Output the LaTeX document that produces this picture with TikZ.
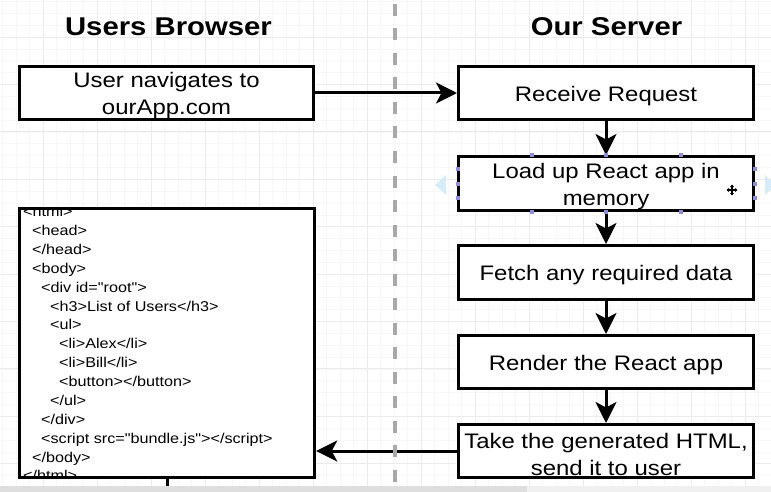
\documentclass[tikz,border=0pt]{standalone}
\usepackage{fontspec}
\setmainfont{Liberation Sans}
\newfontfamily\stretchfont[FakeStretch=1.14]{Liberation Sans}
\usetikzlibrary{arrows.meta}
\definecolor{dashgray}{HTML}{A8A8A8}
\definecolor{handle}{HTML}{8C8CE0}
\definecolor{hoverblue}{HTML}{D6ECF8}
\begin{document}
\begin{tikzpicture}[x=1pt,y=-1pt,
  box/.style={draw=black, line width=3pt, fill=white, inner sep=0pt, outer sep=1.5pt},
  srv/.style={box, minimum width=295pt},
  lbl/.style={inner sep=0pt, align=center, yshift=-3pt,
    font=\stretchfont\fontsize{21}{27}\selectfont},
  title/.style={anchor=base, inner sep=0pt, font=\stretchfont\bfseries\fontsize{25.7}{30}\selectfont},
  code/.style={anchor=base west, inner sep=0pt, font=\stretchfont\fontsize{14.2}{20}\selectfont},
  flow/.style={line width=3pt, -{Stealth[length=21pt,width=21pt,inset=5.5pt]}},
  hnd/.style={fill=handle, draw=none, minimum size=4pt, inner sep=0pt, shape=rectangle},
]
\useasboundingbox (0,0) rectangle (771,492);
\fill[white] (0,0) rectangle (771,492);
% faint grid
\foreach \gx in {2.5,16,29.5,...,771} \draw[black!3, line width=0.6pt] (\gx,0) -- (\gx,492);
\foreach \gy in {1.5,13.35,...,492} \draw[black!3, line width=0.6pt] (0,\gy) -- (771,\gy);
\foreach \gx in {43,97,...,771} \draw[black!8, line width=0.8pt] (\gx,0) -- (\gx,492);
\foreach \gy in {37,84.4,...,492} \draw[black!8, line width=0.8pt] (0,\gy) -- (771,\gy);

% titles
\node[title] (tb) at (168.5,36) {Users Browser};
\node[title] (ts) at (606.5,36) {Our Server};

% boxes
\node[box, minimum width=294pt, minimum height=53pt,
  label={[lbl]center:User navigates to\\ourApp.com}] (nav) at (166.5,93) {};
\node[srv, minimum height=53pt, label={[lbl]center:Receive Request}] (recv) at (606,93) {};
% hover triangles of selected box
\fill[hoverblue] (435,185) -- (446,175) -- (446,195) -- cycle;
\fill[hoverblue] (776,185) -- (765,175) -- (765,195) -- cycle;
\node[srv, minimum height=54pt, label={[lbl]center:Load up React app in\\memory}] (load) at (606,183.5) {};
\node[srv, minimum height=54pt, label={[lbl]center:Fetch any required data}] (fetch) at (606,272.5) {};
\node[srv, minimum height=53pt, label={[lbl]center:Render the React app}] (render) at (606,362) {};
\node[srv, minimum height=53pt, label={[lbl]center:Take the generated HTML,\\send it to user}] (send) at (606,451) {};

% html box
\node[draw=none, fill=white, minimum width=295pt, minimum height=269pt, inner sep=0pt] (html) at (167,343) {};
\begin{scope}
\clip (19.5,208.5) rectangle (314.5,477.5);
\node[code] (l1) at (23,216.7) {<html>};
\node[code] (l2) at (32,235.6) {<head>};
\node[code] (l3) at (32,254.4) {</head>};
\node[code] (l4) at (32,273.3) {<body>};
\node[code] (l5) at (41,292.2) {<div id="root">};
\node[code] (l6) at (50,311.1) {<h3>List of Users</h3>};
\node[code] (l7) at (50,329.9) {<ul>};
\node[code] (l8) at (59,348.8) {<li>Alex</li>};
\node[code] (l9) at (59,367.7) {<li>Bill</li>};
\node[code] (l10) at (59,386.5) {<button></button>};
\node[code] (l11) at (50,405.4) {</ul>};
\node[code] (l12) at (41,424.3) {</div>};
\node[code] (l13) at (41,443.1) {<script src="bundle.js"></script>};
\node[code] (l14) at (32,462.0) {</body>};
\node[code] (l15) at (23,480.9) {</html>};
\end{scope}
\draw[line width=3pt] (html.south west) rectangle (html.north east);

% connectors
\draw[flow] (nav.east) -- (recv.west);
\draw[flow] (recv.south) -- (load.north);
\draw[flow] (load.south) -- (fetch.north);
\draw[flow] (fetch.south) -- (render.north);
\draw[flow] (render.south) -- (send.north);
\draw[flow] (send.west) -- ([xshift=1.5pt]html.east |- send.west);
\coordinate (stub) at (167,487);
\draw[line width=3pt] ([yshift=-1.5pt]html.south) -- (stub);

% selection handles on "Load up" box
\foreach \hx in {531.5,606,680.5} {
  \node[hnd] at (\hx,155.5) {};
  \node[hnd] at (\hx,211.5) {};
}
\foreach \hy in {168.5,183.5,197.5} {
  \node[hnd] at (457.5,\hy) {};
  \node[hnd] at (754.5,\hy) {};
}
% move cursor
\begin{scope}[shift={(732,190)}]
  \draw[white, line width=2.6pt] (-6,0) -- (6,0) (0,-6) -- (0,6);
  \draw[black, line width=1.1pt, {Triangle[length=2.5pt,width=4pt]}-{Triangle[length=2.5pt,width=4pt]}] (-5.5,0) -- (5.5,0);
  \draw[black, line width=1.1pt, {Triangle[length=2.5pt,width=4pt]}-{Triangle[length=2.5pt,width=4pt]}] (0,-5.5) -- (0,5.5);
\end{scope}

% divider
\draw[dashgray, line width=4pt, dash pattern=on 12pt off 12.5pt] (395,4) -- (395,482);

% bottom bar
\fill[black!6] (0,486) rectangle (771,492);
\fill[black!13] (0,486) rectangle (527,492);
\end{tikzpicture}
\end{document}
